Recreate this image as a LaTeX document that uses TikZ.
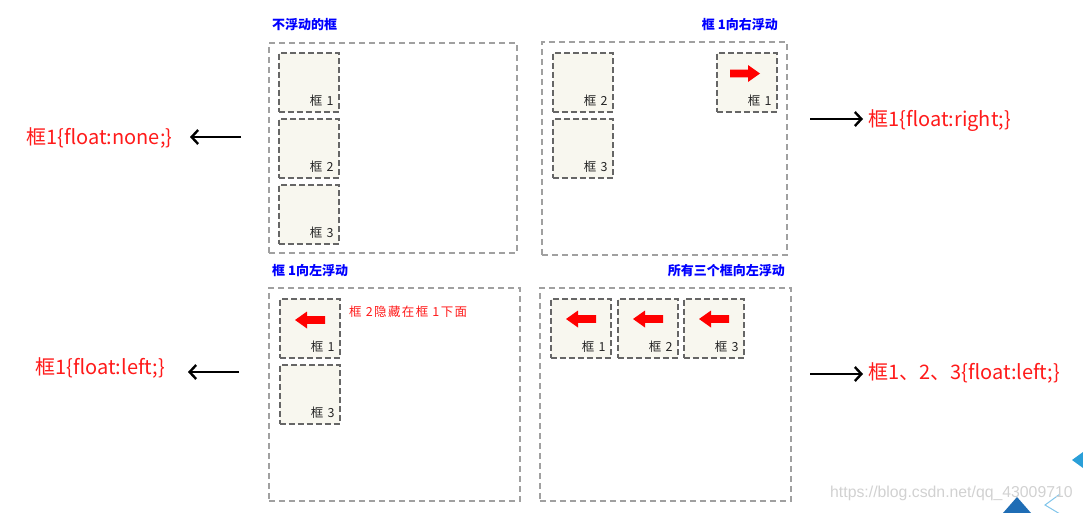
\documentclass[tikz,border=0pt]{standalone}
\usepackage{fontspec}
\setmainfont{Noto Sans CJK SC}
\newfontfamily\wmfont{Liberation Sans}
\newfontfamily\spacedfont[LetterSpace=11]{Noto Sans CJK SC}
\usetikzlibrary{arrows.meta}
\definecolor{boxfill}{HTML}{F8F7EF}
\definecolor{outergray}{HTML}{A0A0A0}
\definecolor{innergray}{HTML}{666666}
\definecolor{titleblue}{HTML}{0000FF}
\definecolor{labelred}{HTML}{FF1A1A}
\definecolor{triblue}{HTML}{2A9FD8}
\definecolor{tridark}{HTML}{1F6DB5}
\definecolor{trilight}{HTML}{7FC4EA}
\tikzset{
  panel/.style={draw=outergray, line width=1.5pt, dash pattern=on 6pt off 4pt,
    inner sep=0pt, anchor=north west},
  floatbox/.style={draw=innergray, line width=1.7pt, dash pattern=on 6pt off 3pt,
    fill=boxfill, inner sep=0pt, minimum width=60pt, minimum height=59pt, anchor=north west},
  boxlabel/.style={font=\spacedfont\fontsize{12.5}{14}\selectfont, text=black!85, anchor=base east, inner sep=0pt},
  paneltitle/.style={font=\fontsize{13}{15}\selectfont\bfseries, text=titleblue, inner sep=0pt},
  bigtext/.style={font=\fontsize{20}{23}\selectfont, text=labelred, inner sep=0pt, anchor=west},
  notetext/.style={font=\spacedfont\fontsize{12.5}{14}\selectfont, text=labelred, inner sep=0pt, anchor=west},
  bigarrow/.style={line width=2.4pt, -{Straight Barb[length=6.5pt,width=14pt,line width=2.4pt]}},
  leftarr/.pic={\fill[red] (-15,0) -- (-3,-8.5) -- (-3,-3.8) -- (15,-3.8) -- (15,3.8) -- (-3,3.8) -- (-3,8.5) -- cycle;},
  rightarr/.pic={\fill[red] (15,0) -- (3,-8.5) -- (3,-3.8) -- (-15,-3.8) -- (-15,3.8) -- (3,3.8) -- (3,8.5) -- cycle;}
}
\begin{document}
\begin{tikzpicture}[x=1pt,y=-1pt]
\useasboundingbox (0,0) rectangle (1083,512);

% ---------- panel 1 ----------
\node[paneltitle, anchor=west] (t1) at (272,25) {不浮动的框};
\node[panel, minimum width=248pt, minimum height=210pt] (p1) at (268,42) {};
\node[floatbox] (p1b1) at (278,52) {};
\node[floatbox] (p1b2) at (278,118) {};
\node[floatbox] (p1b3) at (278,184) {};
\node[boxlabel] (p1l1) at ([shift={(-6,-7)}]p1b1.south east) {框 1};
\node[boxlabel] (p1l2) at ([shift={(-6,-7)}]p1b2.south east) {框 2};
\node[boxlabel] (p1l3) at ([shift={(-6,-7)}]p1b3.south east) {框 3};

% ---------- panel 2 ----------
\node[paneltitle, anchor=east] (t2) at (778,25) {框 1向右浮动};
\node[panel, minimum width=245pt, minimum height=213pt] (p2) at (541,41) {};
\node[floatbox] (p2b1) at (716,52) {};
\node[floatbox] (p2b2) at (552,52) {};
\node[floatbox] (p2b3) at (552,118) {};
\node[boxlabel] (p2l1) at ([shift={(-6,-7)}]p2b1.south east) {框 1};
\node[boxlabel] (p2l2) at ([shift={(-6,-7)}]p2b2.south east) {框 2};
\node[boxlabel] (p2l3) at ([shift={(-6,-7)}]p2b3.south east) {框 3};
\pic at (745,73.5) {rightarr};

% ---------- panel 3 ----------
\node[paneltitle, anchor=west] (t3) at (272,271) {框 1向左浮动};
\node[panel, minimum width=251pt, minimum height=213pt] (p3) at (268,287) {};
\node[floatbox] (p3b1) at (279,298) {};
\node[floatbox] (p3b3) at (279,364) {};
\node[boxlabel] (p3l1) at ([shift={(-6,-7)}]p3b1.south east) {框 1};
\node[boxlabel] (p3l3) at ([shift={(-6,-7)}]p3b3.south east) {框 3};
\pic at (310,320) {leftarr};
\node[notetext] (note) at (349,312) {框 2隐藏在框 1下面};

% ---------- panel 4 ----------
\node[paneltitle, anchor=east] (t4) at (785,271) {所有三个框向左浮动};
\node[panel, minimum width=251pt, minimum height=213pt] (p4) at (539,287) {};
\node[floatbox] (p4b1) at (550,298) {};
\node[floatbox] (p4b2) at (617,298) {};
\node[floatbox] (p4b3) at (683,298) {};
\node[boxlabel] (p4l1) at ([shift={(-6,-7)}]p4b1.south east) {框 1};
\node[boxlabel] (p4l2) at ([shift={(-6,-7)}]p4b2.south east) {框 2};
\node[boxlabel] (p4l3) at ([shift={(-6,-7)}]p4b3.south east) {框 3};
\pic at (581,319) {leftarr};
\pic at (648,319) {leftarr};
\pic at (714,319) {leftarr};

% ---------- side labels and arrows ----------
\node[bigtext] (lnone) at (26,138) {框1\{float:none;\}};
\node[bigtext] (lright) at (868,121) {框1\{float:right;\}};
\node[bigtext] (lleft) at (35,368) {框1\{float:left;\}};
\node[bigtext] (lall) at (868,373) {框1、2、3\{float:left;\}};

\coordinate (a1s) at (241,137);
\coordinate (a1e) at (190,137);
\coordinate (a2s) at (810,119);
\coordinate (a2e) at (863,119);
\coordinate (a3s) at (239,372);
\coordinate (a3e) at (188,372);
\coordinate (a4s) at (810,374);
\coordinate (a4e) at (863,374);
\draw[bigarrow] (a1s) -- (a1e);
\draw[bigarrow] (a2s) -- (a2e);
\draw[bigarrow] (a3s) -- (a3e);
\draw[bigarrow] (a4s) -- (a4e);

% ---------- watermark ----------
\fill[triblue] (1072,460) -- (1083,452) -- (1083,468) -- cycle;
\fill[tridark] (1017,497) -- (1031,513) -- (1003,513) -- cycle;
\draw[trilight, line width=1pt] (1060,494) -- (1045,505) -- (1060,514);
\node[font=\wmfont\fontsize{15.8}{18}\selectfont, text=black!18, anchor=west, inner sep=0pt] (wm) at (830,493) {https://blog.csdn.net/qq\_43009710};
\end{tikzpicture}
\end{document}
